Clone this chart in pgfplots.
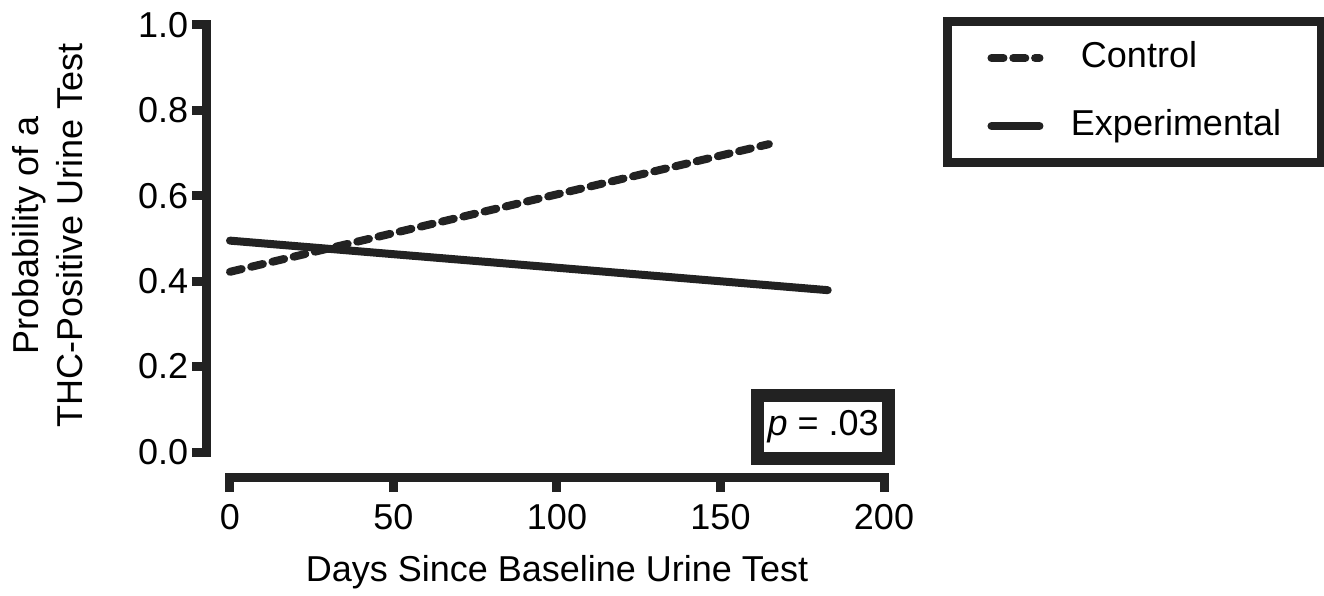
\documentclass[border=0pt]{standalone}
\usepackage{fontspec}
\setmainfont{Liberation Sans}
\usepackage{pgfplots}
\pgfplotsset{compat=1.18}
\definecolor{ink}{HTML}{222222}

\begin{document}
\fontsize{18pt}{22pt}\selectfont
\begin{tikzpicture}
\path[use as bounding box] (0,0) rectangle (662pt,297.5pt);
\begin{axis}[
  at={(115pt,71.5pt)}, anchor=south west,
  scale only axis, width=327pt, height=213.5pt,
  xmin=0, xmax=200, ymin=0, ymax=1,
  clip=false,
  axis x line*=bottom, axis y line*=left,
  axis x line shift=12.75pt, axis y line shift=11.5pt,
  axis line style={ink, line width=4.5pt, line cap=rect, -},
  xtick={0,50,100,150,200},
  ytick={0,0.2,0.4,0.6,0.8,1},
  minor tick num=0,
  tick align=outside, major tick length=7.25pt,
  tick style={ink, line width=4.5pt, line cap=butt},
  /pgf/number format/assume math mode=true,
  yticklabel style={/pgf/number format/fixed, /pgf/number format/fixed zerofill,
    /pgf/number format/precision=1, inner xsep=2pt},
  xlabel={Days Since Baseline Urine Test},
  xlabel style={at={(axis description cs:0.5,-0.3037)}, anchor=base},
  ylabel={Probability of a\\THC-Positive Urine Test},
  ylabel style={align=center, at={(axis description cs:-0.2794,0.508)}, anchor=center},
  legend cell align=left,
  legend image code/.code={\draw[#1] (0pt,0pt) -- (24pt,0pt);},
  legend style={at={(axis description cs:1.0902,1.0187)}, anchor=north west,
    draw=ink, line width=4.5pt, fill=white,
    inner xsep=20pt, inner ysep=9.25pt, row sep=16pt, column sep=13.75pt,
    nodes={inner sep=0pt, text height=0.75em, text depth=0.25em}},
]
\addplot[ink, line width=4pt, line cap=round, dash pattern=on 6pt off 4.9pt]
  coordinates {(0,0.422) (164.8,0.721)};
\addlegendentry{\hspace{5pt}Control}
\addplot[ink, line width=4pt, line cap=round]
  coordinates {(0,0.495) (182.8,0.379)};
\addlegendentry{Experimental}

\node[draw=ink, line width=6.5pt, fill=white, minimum width=65.25pt,
  minimum height=31.5pt, inner sep=0pt] at (axis cs:181.4,0.0585) {\textit{p} = .03};
\end{axis}
\end{tikzpicture}
\end{document}
